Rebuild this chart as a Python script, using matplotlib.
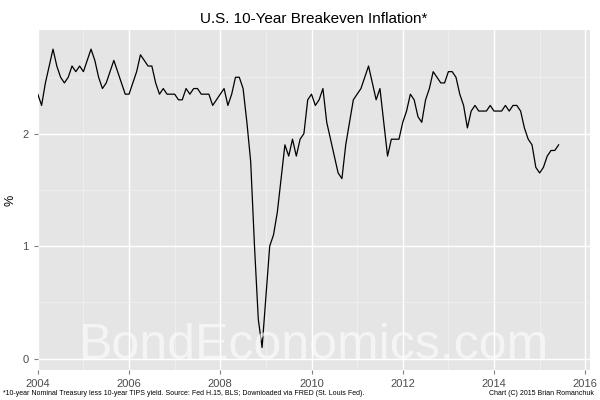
import matplotlib
matplotlib.use("Agg")
import matplotlib.pyplot as plt
import numpy as np

plt.rcParams["font.family"] = ["Liberation Sans", "DejaVu Sans"]

# monthly breakeven readings (%), Jan 2004 .. Jun 2015
be_2004 = [2.35, 2.25, 2.45, 2.6, 2.75, 2.6, 2.5, 2.45, 2.5, 2.6, 2.55, 2.6]
be_2005 = [2.55, 2.65, 2.75, 2.65, 2.5, 2.4, 2.45, 2.55, 2.65, 2.55, 2.45, 2.35]
be_2006 = [2.35, 2.45, 2.55, 2.7, 2.65, 2.6, 2.6, 2.45, 2.35, 2.4, 2.35, 2.35]
be_2007 = [2.35, 2.3, 2.3, 2.4, 2.35, 2.4, 2.4, 2.35, 2.35, 2.35, 2.25, 2.3]
be_2008 = [2.35, 2.4, 2.25, 2.35, 2.5, 2.5, 2.4, 2.1, 1.75, 1.0, 0.35, 0.1]
be_2009 = [0.55, 1.0, 1.1, 1.3, 1.6, 1.9, 1.8, 1.95, 1.8, 1.95, 2.0, 2.3]
be_2010 = [2.35, 2.25, 2.3, 2.4, 2.1, 1.95, 1.8, 1.65, 1.6, 1.9, 2.1, 2.3]
be_2011 = [2.35, 2.4, 2.5, 2.6, 2.45, 2.3, 2.4, 2.1, 1.8, 1.95, 1.95, 1.95]
be_2012 = [2.1, 2.2, 2.35, 2.3, 2.15, 2.1, 2.3, 2.4, 2.55, 2.5, 2.45, 2.45]
be_2013 = [2.55, 2.55, 2.5, 2.35, 2.25, 2.05, 2.2, 2.25, 2.2, 2.2, 2.2, 2.25]
be_2014 = [2.2, 2.2, 2.2, 2.25, 2.2, 2.25, 2.25, 2.2, 2.05, 1.95, 1.9, 1.7]
be_2015 = [1.65, 1.7, 1.8, 1.85, 1.85, 1.9]

values = (be_2004 + be_2005 + be_2006 + be_2007 + be_2008 + be_2009 + be_2010
          + be_2011 + be_2012 + be_2013 + be_2014 + be_2015)
dates = 2004 + np.arange(len(values)) / 12.0

fig = plt.figure(figsize=(6, 4), dpi=100)
ax = fig.add_axes([0.063, 0.075, 0.92, 0.85])
ax.set_facecolor("#E5E5E5")
ax.plot(dates, values, color="black", linewidth=0.9)

ax.set_xlim(2004, 2016.1)
ax.set_ylim(-0.1, 2.92)
ax.set_xticks([2004, 2006, 2008, 2010, 2012, 2014, 2016])
ax.set_xticks([2005, 2007, 2009, 2011, 2013, 2015], minor=True)
ax.set_yticks([0, 1, 2])
ax.set_yticks([0.5, 1.5, 2.5], minor=True)
ax.grid(which="major", color="white", linewidth=1.0)
ax.grid(which="minor", color="#F2F2F2", linewidth=0.5)
ax.set_axisbelow(True)
for s in ax.spines.values():
    s.set_visible(False)
ax.tick_params(which="both", length=3, color="#7F7F7F", labelsize=8, labelcolor="#4D4D4D")
ax.tick_params(which="minor", length=0)
ax.set_ylabel("%", fontsize=9)
ax.set_title("U.S. 10-Year Breakeven Inflation*", fontsize=11, pad=5)

ax.text(0.5, 0.07, "BondEconomics.com", transform=ax.transAxes, ha="center",
        va="center", fontsize=36, color="white", alpha=0.6)
fig.text(0.005, 0.012, "*10-year Nominal Treasury less 10-year TIPS yield. Source: Fed H.15, BLS; Downloaded via FRED (St. Louis Fed).",
         fontsize=5, ha="left")
fig.text(0.99, 0.012, "Chart (C) 2015 Brian Romanchuk", fontsize=5, ha="right")

fig.savefig("out.png", dpi=100)
